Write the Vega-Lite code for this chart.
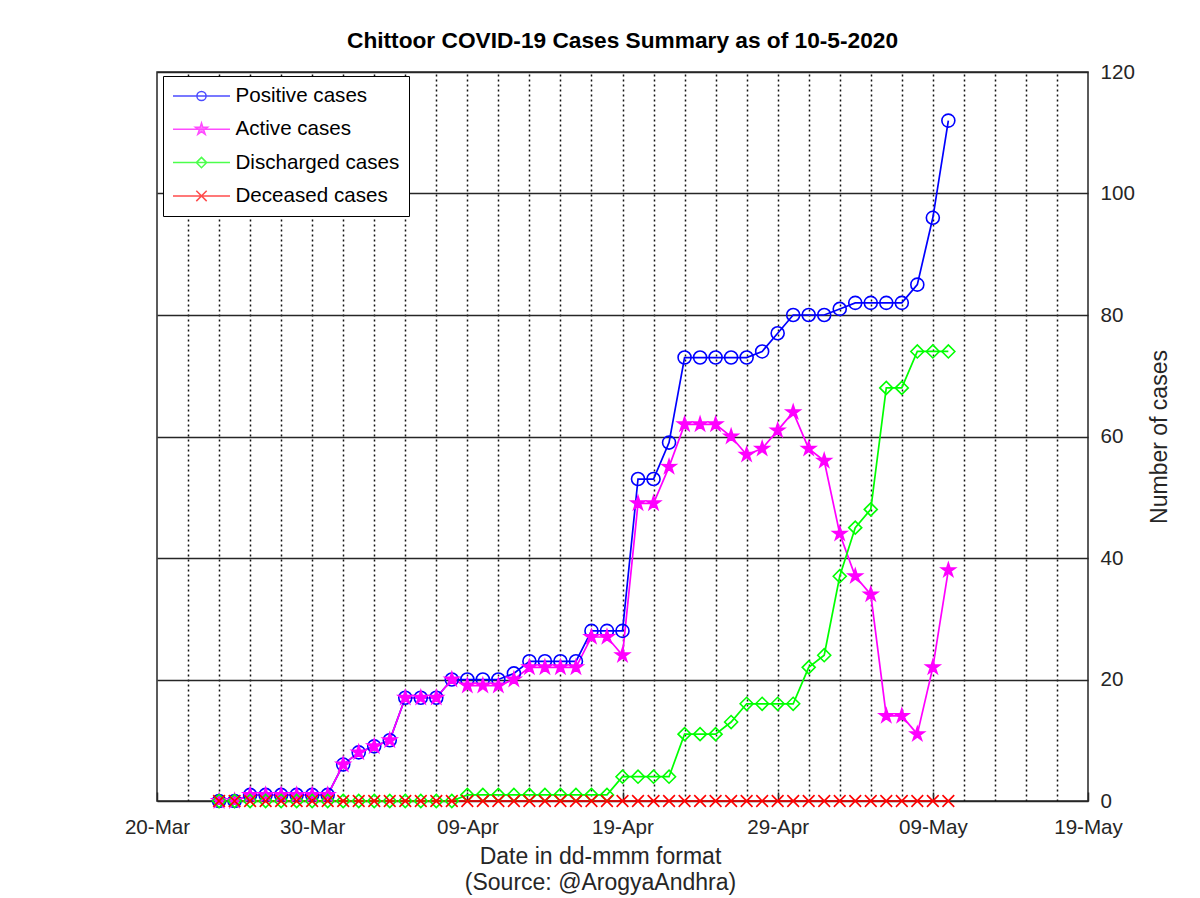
{
  "$schema": "https://vega.github.io/schema/vega-lite/v6.json",
  "width": 931,
  "height": 729,
  "autosize": {"type": "none"},
  "padding": {"left": 157, "top": 72, "right": 112, "bottom": 97},
  "background": "white",
  "title": {"text": "Chittoor COVID-19 Cases Summary as of 10-5-2020", "fontSize": 22.7, "fontWeight": "bold", "color": "#000000", "anchor": "middle", "frame": "group", "offset": -9, "baseline": "alphabetic"},
  "config": {"font": "Liberation Sans", "view": {"stroke": "#262626", "strokeWidth": 1.5}},
  "data": {"values": [
    {"date": "2020-03-24", "Positive cases": 0, "Active cases": 0, "Discharged cases": 0, "Deceased cases": 0},
    {"date": "2020-03-25", "Positive cases": 0, "Active cases": 0, "Discharged cases": 0, "Deceased cases": 0},
    {"date": "2020-03-26", "Positive cases": 1, "Active cases": 1, "Discharged cases": 0, "Deceased cases": 0},
    {"date": "2020-03-27", "Positive cases": 1, "Active cases": 1, "Discharged cases": 0, "Deceased cases": 0},
    {"date": "2020-03-28", "Positive cases": 1, "Active cases": 1, "Discharged cases": 0, "Deceased cases": 0},
    {"date": "2020-03-29", "Positive cases": 1, "Active cases": 1, "Discharged cases": 0, "Deceased cases": 0},
    {"date": "2020-03-30", "Positive cases": 1, "Active cases": 1, "Discharged cases": 0, "Deceased cases": 0},
    {"date": "2020-03-31", "Positive cases": 1, "Active cases": 1, "Discharged cases": 0, "Deceased cases": 0},
    {"date": "2020-04-01", "Positive cases": 6, "Active cases": 6, "Discharged cases": 0, "Deceased cases": 0},
    {"date": "2020-04-02", "Positive cases": 8, "Active cases": 8, "Discharged cases": 0, "Deceased cases": 0},
    {"date": "2020-04-03", "Positive cases": 9, "Active cases": 9, "Discharged cases": 0, "Deceased cases": 0},
    {"date": "2020-04-04", "Positive cases": 10, "Active cases": 10, "Discharged cases": 0, "Deceased cases": 0},
    {"date": "2020-04-05", "Positive cases": 17, "Active cases": 17, "Discharged cases": 0, "Deceased cases": 0},
    {"date": "2020-04-06", "Positive cases": 17, "Active cases": 17, "Discharged cases": 0, "Deceased cases": 0},
    {"date": "2020-04-07", "Positive cases": 17, "Active cases": 17, "Discharged cases": 0, "Deceased cases": 0},
    {"date": "2020-04-08", "Positive cases": 20, "Active cases": 20, "Discharged cases": 0, "Deceased cases": 0},
    {"date": "2020-04-09", "Positive cases": 20, "Active cases": 19, "Discharged cases": 1, "Deceased cases": 0},
    {"date": "2020-04-10", "Positive cases": 20, "Active cases": 19, "Discharged cases": 1, "Deceased cases": 0},
    {"date": "2020-04-11", "Positive cases": 20, "Active cases": 19, "Discharged cases": 1, "Deceased cases": 0},
    {"date": "2020-04-12", "Positive cases": 21, "Active cases": 20, "Discharged cases": 1, "Deceased cases": 0},
    {"date": "2020-04-13", "Positive cases": 23, "Active cases": 22, "Discharged cases": 1, "Deceased cases": 0},
    {"date": "2020-04-14", "Positive cases": 23, "Active cases": 22, "Discharged cases": 1, "Deceased cases": 0},
    {"date": "2020-04-15", "Positive cases": 23, "Active cases": 22, "Discharged cases": 1, "Deceased cases": 0},
    {"date": "2020-04-16", "Positive cases": 23, "Active cases": 22, "Discharged cases": 1, "Deceased cases": 0},
    {"date": "2020-04-17", "Positive cases": 28, "Active cases": 27, "Discharged cases": 1, "Deceased cases": 0},
    {"date": "2020-04-18", "Positive cases": 28, "Active cases": 27, "Discharged cases": 1, "Deceased cases": 0},
    {"date": "2020-04-19", "Positive cases": 28, "Active cases": 24, "Discharged cases": 4, "Deceased cases": 0},
    {"date": "2020-04-20", "Positive cases": 53, "Active cases": 49, "Discharged cases": 4, "Deceased cases": 0},
    {"date": "2020-04-21", "Positive cases": 53, "Active cases": 49, "Discharged cases": 4, "Deceased cases": 0},
    {"date": "2020-04-22", "Positive cases": 59, "Active cases": 55, "Discharged cases": 4, "Deceased cases": 0},
    {"date": "2020-04-23", "Positive cases": 73, "Active cases": 62, "Discharged cases": 11, "Deceased cases": 0},
    {"date": "2020-04-24", "Positive cases": 73, "Active cases": 62, "Discharged cases": 11, "Deceased cases": 0},
    {"date": "2020-04-25", "Positive cases": 73, "Active cases": 62, "Discharged cases": 11, "Deceased cases": 0},
    {"date": "2020-04-26", "Positive cases": 73, "Active cases": 60, "Discharged cases": 13, "Deceased cases": 0},
    {"date": "2020-04-27", "Positive cases": 73, "Active cases": 57, "Discharged cases": 16, "Deceased cases": 0},
    {"date": "2020-04-28", "Positive cases": 74, "Active cases": 58, "Discharged cases": 16, "Deceased cases": 0},
    {"date": "2020-04-29", "Positive cases": 77, "Active cases": 61, "Discharged cases": 16, "Deceased cases": 0},
    {"date": "2020-04-30", "Positive cases": 80, "Active cases": 64, "Discharged cases": 16, "Deceased cases": 0},
    {"date": "2020-05-01", "Positive cases": 80, "Active cases": 58, "Discharged cases": 22, "Deceased cases": 0},
    {"date": "2020-05-02", "Positive cases": 80, "Active cases": 56, "Discharged cases": 24, "Deceased cases": 0},
    {"date": "2020-05-03", "Positive cases": 81, "Active cases": 44, "Discharged cases": 37, "Deceased cases": 0},
    {"date": "2020-05-04", "Positive cases": 82, "Active cases": 37, "Discharged cases": 45, "Deceased cases": 0},
    {"date": "2020-05-05", "Positive cases": 82, "Active cases": 34, "Discharged cases": 48, "Deceased cases": 0},
    {"date": "2020-05-06", "Positive cases": 82, "Active cases": 14, "Discharged cases": 68, "Deceased cases": 0},
    {"date": "2020-05-07", "Positive cases": 82, "Active cases": 14, "Discharged cases": 68, "Deceased cases": 0},
    {"date": "2020-05-08", "Positive cases": 85, "Active cases": 11, "Discharged cases": 74, "Deceased cases": 0},
    {"date": "2020-05-09", "Positive cases": 96, "Active cases": 22, "Discharged cases": 74, "Deceased cases": 0},
    {"date": "2020-05-10", "Positive cases": 112, "Active cases": 38, "Discharged cases": 74, "Deceased cases": 0}
  ]},
  "transform": [{"fold": ["Positive cases", "Active cases", "Discharged cases", "Deceased cases"], "as": ["series", "value"]}],
  "encoding": {
    "y": {
      "field": "value", "type": "quantitative",
      "scale": {"domain": [0, 120], "nice": false, "zero": true},
      "axis": {
        "orient": "right", "values": [0, 20, 40, 60, 80, 100, 120],
        "grid": true, "gridColor": "#262626", "gridWidth": 1.5, "gridOpacity": 1,
        "domain": false, "ticks": false,
        "labelFontSize": 20.6, "labelColor": "#262626", "labelPadding": 12,
        "title": "Number of cases", "titleFontSize": 23, "titleFontWeight": "normal", "titleColor": "#262626",
        "titleAngle": 270, "titlePadding": 37
      }
    }
  },
  "layer": [
    {
      "mark": {"type": "line", "strokeWidth": 1.7},
      "encoding": {
        "x": {
          "field": "date", "type": "temporal",
          "scale": {"type": "utc", "domain": [{"year": 2020, "month": 3, "date": 20, "utc": true}, {"year": 2020, "month": 5, "date": 19, "utc": true}]},
          "axis": {
            "orient": "bottom",
            "values": [
              {"year": 2020, "month": 3, "date": 20, "utc": true},
              {"year": 2020, "month": 3, "date": 30, "utc": true},
              {"year": 2020, "month": 4, "date": 9, "utc": true},
              {"year": 2020, "month": 4, "date": 19, "utc": true},
              {"year": 2020, "month": 4, "date": 29, "utc": true},
              {"year": 2020, "month": 5, "date": 9, "utc": true},
              {"year": 2020, "month": 5, "date": 19, "utc": true}
            ],
            "format": "%d-%b", "grid": false, "domain": false,
            "ticks": true, "tickSize": -9, "tickColor": "#262626", "tickWidth": 1.5,
            "labelFlush": false, "labelOverlap": false, "labelBound": false,
            "labelFontSize": 20.6, "labelColor": "#262626", "labelPadding": 25,
            "title": ["Date in dd-mmm format", "(Source: @ArogyaAndhra)"],
            "titleFontSize": 23, "titleFontWeight": "normal", "titleColor": "#262626",
            "titlePadding": 8, "titleLineHeight": 26, "titleX": 443
          }
        },
        "color": {
          "field": "series", "type": "nominal", "legend": null,
          "scale": {"domain": ["Positive cases", "Active cases", "Discharged cases", "Deceased cases"], "range": ["#0000ff", "#ff00ff", "#00ff00", "#ff0000"]}
        }
      }
    },
    {
      "mark": {"type": "point", "filled": false, "size": 169, "strokeWidth": 1.6, "opacity": 1},
      "encoding": {
        "x": {
          "field": "date", "type": "temporal",
          "axis": {
            "orient": "top",
            "values": [
              {"year": 2020, "month": 3, "date": 22, "utc": true},
              {"year": 2020, "month": 3, "date": 24, "utc": true},
              {"year": 2020, "month": 3, "date": 26, "utc": true},
              {"year": 2020, "month": 3, "date": 28, "utc": true},
              {"year": 2020, "month": 3, "date": 30, "utc": true},
              {"year": 2020, "month": 4, "date": 1, "utc": true},
              {"year": 2020, "month": 4, "date": 3, "utc": true},
              {"year": 2020, "month": 4, "date": 5, "utc": true},
              {"year": 2020, "month": 4, "date": 7, "utc": true},
              {"year": 2020, "month": 4, "date": 9, "utc": true},
              {"year": 2020, "month": 4, "date": 11, "utc": true},
              {"year": 2020, "month": 4, "date": 13, "utc": true},
              {"year": 2020, "month": 4, "date": 15, "utc": true},
              {"year": 2020, "month": 4, "date": 17, "utc": true},
              {"year": 2020, "month": 4, "date": 19, "utc": true},
              {"year": 2020, "month": 4, "date": 21, "utc": true},
              {"year": 2020, "month": 4, "date": 23, "utc": true},
              {"year": 2020, "month": 4, "date": 25, "utc": true},
              {"year": 2020, "month": 4, "date": 27, "utc": true},
              {"year": 2020, "month": 4, "date": 29, "utc": true},
              {"year": 2020, "month": 5, "date": 1, "utc": true},
              {"year": 2020, "month": 5, "date": 3, "utc": true},
              {"year": 2020, "month": 5, "date": 5, "utc": true},
              {"year": 2020, "month": 5, "date": 7, "utc": true},
              {"year": 2020, "month": 5, "date": 9, "utc": true},
              {"year": 2020, "month": 5, "date": 11, "utc": true},
              {"year": 2020, "month": 5, "date": 13, "utc": true},
              {"year": 2020, "month": 5, "date": 15, "utc": true},
              {"year": 2020, "month": 5, "date": 17, "utc": true}
            ],
            "grid": true, "gridDash": [2, 3], "gridColor": "#111111", "gridWidth": 1.5, "gridOpacity": 1,
            "labels": false, "ticks": false, "domain": false, "title": null,
            "minExtent": 0, "maxExtent": 0
          }
        },
        "stroke": {
          "field": "series", "type": "nominal", "legend": null,
          "scale": {"domain": ["Positive cases", "Active cases", "Discharged cases", "Deceased cases"], "range": ["#0000ff", "#ff00ff", "#00ff00", "#ff0000"]}
        },
        "fill": {
          "field": "series", "type": "nominal", "legend": null,
          "scale": {"domain": ["Positive cases", "Active cases", "Discharged cases", "Deceased cases"], "range": ["transparent", "#ff00ff", "transparent", "transparent"]}
        },
        "shape": {
          "field": "series", "type": "nominal", "legend": null,
          "scale": {"domain": ["Positive cases", "Active cases", "Discharged cases", "Deceased cases"], "range": [
            "circle",
            "M0,-1.1L0.245,-0.338L1.046,-0.34L0.397,0.129L0.647,0.89L0,0.418L-0.647,0.89L-0.397,0.129L-1.046,-0.34L-0.245,-0.338Z",
            "diamond",
            "M-0.9,-0.9L0.9,0.9M-0.9,0.9L0.9,-0.9"
          ]}
        }
      }
    },
    {
      "mark": {"type": "point", "filled": false, "size": 0, "strokeWidth": 1.5},
      "encoding": {
        "x": {"field": "date", "type": "temporal", "axis": null},
        "stroke": {
          "field": "series", "type": "nominal",
          "scale": {"domain": ["Positive cases", "Active cases", "Discharged cases", "Deceased cases"], "range": ["#0000ff", "#ff00ff", "#00ff00", "#ff0000"]},
          "legend": {
            "orient": "none", "legendX": 6, "legendY": 4, "title": null,
            "fillColor": "white", "strokeColor": "#000000", "padding": 9,
            "symbolSize": 400, "symbolOffset": 18.5, "symbolStrokeWidth": 1.5, "symbolOpacity": 1,
            "labelFontSize": 20.6, "labelColor": "#000000", "labelOffset": 23, "labelLimit": 400, "rowPadding": 11.3,
            "labelExpr": "datum.label + '\u2003'"
          }
        },
        "fill": {
          "field": "series", "type": "nominal",
          "scale": {"domain": ["Positive cases", "Active cases", "Discharged cases", "Deceased cases"], "range": ["transparent", "#ff00ff", "transparent", "transparent"]}
        },
        "shape": {
          "field": "series", "type": "nominal",
          "scale": {"domain": ["Positive cases", "Active cases", "Discharged cases", "Deceased cases"], "range": [
            "M-2.85,0H2.85M-0.46,0A0.46,0.46 0 1,1 0.46,0A0.46,0.46 0 1,1 -0.46,0",
            "M-2.85,0H2.85M0,-0.63L0.14,-0.194L0.596,-0.194L0.225,0.074L0.368,0.508L0,0.24L-0.368,0.508L-0.225,0.074L-0.596,-0.194L-0.14,-0.194Z",
            "M-2.85,0H2.85M0,-0.52L0.52,0L0,0.52L-0.52,0Z",
            "M-2.85,0H2.85M-0.52,-0.52L0.52,0.52M-0.52,0.52L0.52,-0.52"
          ]}
        }
      }
    }
  ],
  "resolve": {"scale": {"stroke": "independent", "fill": "independent", "shape": "independent", "color": "independent"}, "axis": {"x": "independent"}}
}
